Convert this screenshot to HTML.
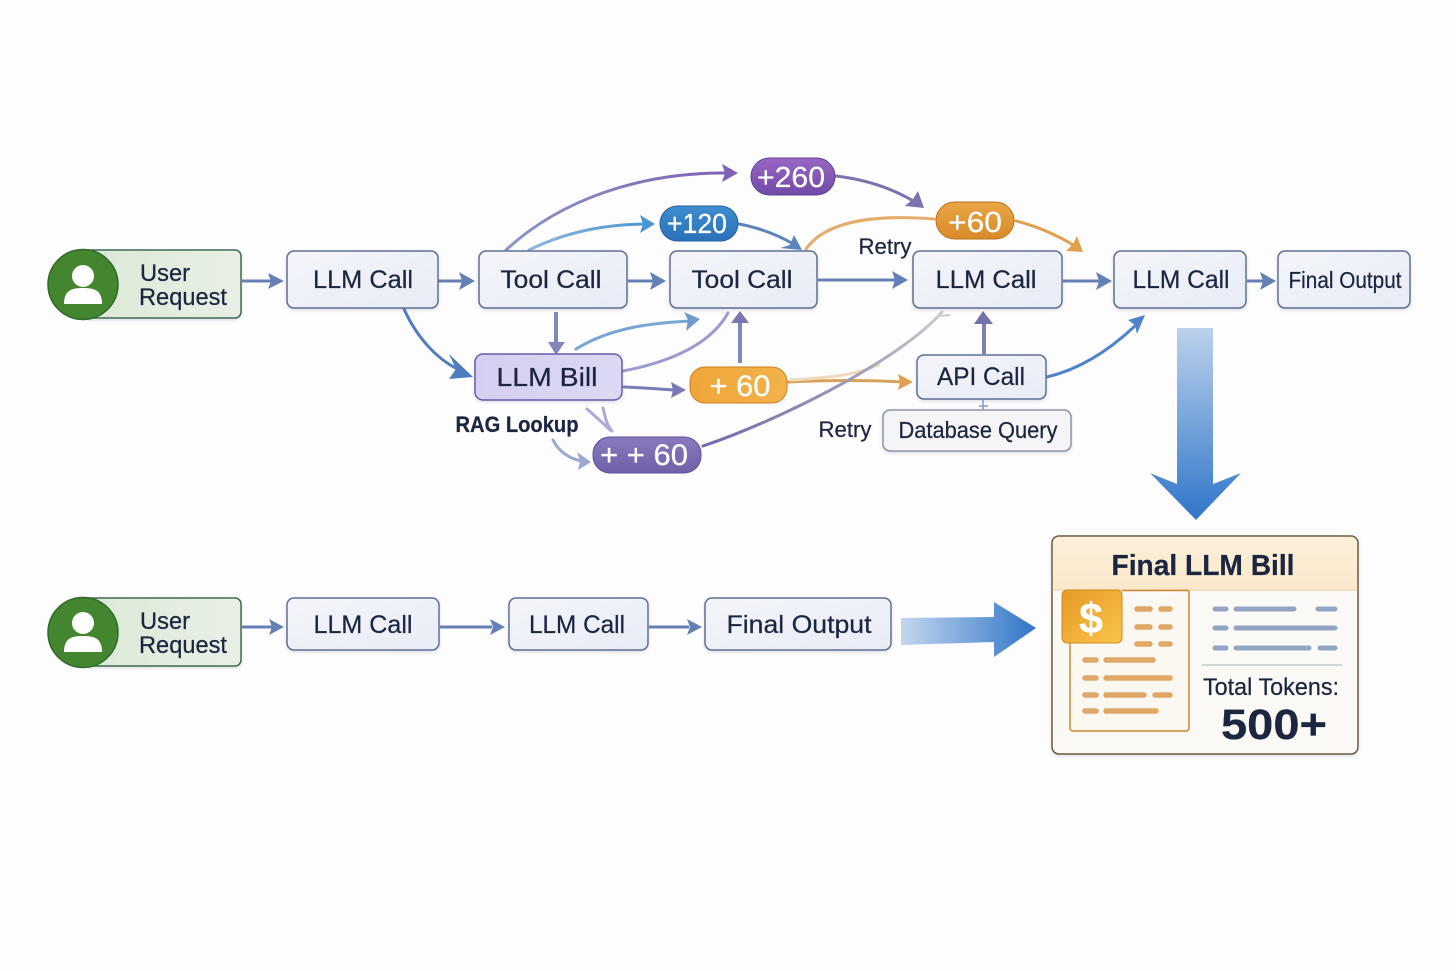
<!DOCTYPE html>
<html><head><meta charset="utf-8"><style>
html,body{margin:0;padding:0;background:#fdfdfd}
svg{display:block}
text{font-family:"Liberation Sans",sans-serif;fill:#1c2640;stroke:#1c2640;stroke-width:.25;text-anchor:middle}
.b{fill:url(#boxg);stroke:#5f6f95;stroke-width:1.5;filter:url(#sh)}
.c{fill:none;stroke-width:3;stroke-linecap:round}
.w{fill:#fff}
.t{fill:#fff;stroke:#fff}
</style></head><body>
<svg width="1456" height="971" viewBox="0 0 1456 971" xmlns="http://www.w3.org/2000/svg">
<defs>
<filter id="sh" x="-5%" y="-10%" width="110%" height="125%"><feDropShadow dx="0" dy="1.500" stdDeviation="1.500" flood-color="#5f6f95" flood-opacity=".22"/></filter>
<linearGradient id="boxg" x1="0" y1="0" x2="1" y2="1"><stop offset="0" stop-color="#f3f5fa"/><stop offset="1" stop-color="#e8ecf6"/></linearGradient>
<linearGradient id="purp" x1="0" y1="0" x2="0" y2="1"><stop offset="0" stop-color="#9a66c4"/><stop offset="1" stop-color="#6f4ba6"/></linearGradient>
<linearGradient id="blue" x1="0" y1="0" x2="0" y2="1"><stop offset="0" stop-color="#3f8dd0"/><stop offset="1" stop-color="#2a70b8"/></linearGradient>
<linearGradient id="or1" x1="0" y1="0" x2="0" y2="1"><stop offset="0" stop-color="#e9a545"/><stop offset="1" stop-color="#d98b28"/></linearGradient>
<linearGradient id="or2" x1="0" y1="0" x2="1" y2="0"><stop offset="0" stop-color="#efa63a"/><stop offset="1" stop-color="#f2b24a"/></linearGradient>
<linearGradient id="pp2" x1="0" y1="0" x2="0" y2="1"><stop offset="0" stop-color="#8a79bd"/><stop offset="1" stop-color="#6f60a8"/></linearGradient>
<linearGradient id="bill" x1="0" y1="0" x2="1" y2="0"><stop offset="0" stop-color="#d5cef0"/><stop offset="1" stop-color="#dcd9f3"/></linearGradient>
<linearGradient id="green" x1="0" y1="0" x2="1" y2="0"><stop offset="0" stop-color="#dbe8d6"/><stop offset="1" stop-color="#e8f0e6"/></linearGradient>
<linearGradient id="down" x1="0" y1="0" x2="0" y2="1"><stop offset="0" stop-color="#bcd2ec"/><stop offset="1" stop-color="#2f75c8"/></linearGradient>
<linearGradient id="right" x1="0" y1="0" x2="1" y2="0"><stop offset="0" stop-color="#c4d7ef"/><stop offset="1" stop-color="#2f75c8"/></linearGradient>
<linearGradient id="hdr" x1="0" y1="0" x2="0" y2="1"><stop offset="0" stop-color="#fbf0da"/><stop offset="1" stop-color="#fbe8cb"/></linearGradient>
<linearGradient id="doll" x1="0" y1="0" x2="1" y2="1"><stop offset="0" stop-color="#e39a24"/><stop offset="1" stop-color="#fcc44c"/></linearGradient>
<linearGradient id="fade" x1="0" y1="0" x2="1" y2="0"><stop offset="0" stop-color="#7667ab"/><stop offset=".6" stop-color="#9c9ab8"/><stop offset="1" stop-color="#c8c9d0"/></linearGradient>
<linearGradient id="p1" x1="0" y1="0" x2="1" y2="0"><stop offset="0" stop-color="#8a96c8"/><stop offset="1" stop-color="#7f62b5"/></linearGradient>
<linearGradient id="p2" x1="0" y1="0" x2="1" y2="0"><stop offset="0" stop-color="#8fb5dc"/><stop offset="1" stop-color="#4a97d4"/></linearGradient>
</defs>

<!-- straight connectors -->
<g fill="none" stroke="#6480b5" stroke-width="3">
<path d="M242 281H272"/><path d="M438 281H464"/><path d="M628 281H654"/><path d="M818 280H896"/><path d="M1063 281H1100"/><path d="M1247 281H1264"/>
<path d="M242 627H272"/><path d="M440 627H492"/><path d="M649 627H689"/>
</g>
<g fill="#6480b5">
<path d="M284 281L268 273L271 281L268 289Z"/><path d="M475 281L459 272L462 281L459 290Z"/><path d="M676 281L660 272L663 281L660 290Z" transform="translate(-10 0)"/><path d="M908 280L892 271L895 280L892 289Z"/><path d="M1112 281L1096 272L1099 281L1096 290Z"/><path d="M1276 281L1260 272L1263 281L1260 290Z"/>
<path d="M284 627L269 619L272 627L269 635Z"/><path d="M505 627L490 619L493 627L490 635Z"/><path d="M702 627L687 619L690 627L687 635Z"/>
</g>

<!-- curved -->
<path class="c" d="M506 250C560 200 640 172 728 173" stroke="url(#p1)"/>
<path d="M738 173L722 164L725 173L722 182Z" fill="#7f62b5"/>
<path class="c" d="M529 250C570 230 610 224 650 224" stroke="url(#p2)"/>
<path d="M655 224L640 215L643 224L640 233Z" fill="#4a97d4"/>
<path class="c" d="M739 224C760 228 780 236 795 245" stroke="#5d84bd"/>
<path d="M802 250L794 235L790 245L780 248Z" fill="#5d84bd"/>
<path class="c" d="M836 176C870 180 895 190 915 202" stroke="#7b72b0"/>
<path d="M924 208L905 206L913 199L918 191Z" fill="#7b72b0"/>
<path class="c" d="M806 249C825 222 870 214 934 219" stroke="#e4ad6b"/>
<path class="c" d="M1016 221C1040 227 1060 237 1075 246" stroke="#dfa050"/>
<path d="M1083 252L1066 251L1073 244L1077 236Z" fill="#dfa050"/>
<path class="c" d="M404 309C418 340 440 362 462 371" stroke="#4f7ec0"/>
<path d="M473 377L449 379L456 369L449 354Z" fill="#4f7ec0"/>
<path d="M556 312V342" stroke="#8288bb" stroke-width="4" fill="none"/>
<path d="M556 355L548 342H565Z" fill="#8288bb"/>
<path class="c" d="M576 349C610 328 650 323 690 321" stroke="#79a6d4"/>
<path d="M700 319L684 312L688 320L686 331Z" fill="#6f9acb"/>
<path class="c" d="M623 371C670 362 710 345 728 313" stroke="#9a9bd0"/>
<path class="c" d="M624 387C645 388 660 389 674 390" stroke="#7a7ab8"/>
<path d="M686 390L671 382L673 390L671 398Z" fill="#7a7ab8"/>
<path d="M740 363V322" stroke="#7f88b8" stroke-width="4" fill="none"/>
<path d="M740 311L731 323H749Z" fill="#7a78ae"/>
<path class="c" d="M788 382C830 380 870 380 902 382" stroke="#d9a25c"/>
<path d="M913 382L898 374L900 382L898 390Z" fill="#dfa050"/>
<path d="M790 380C830 378 860 374 880 364" stroke="#f0d9bb" stroke-width="3" fill="none"/>
<path class="c" d="M703 446C780 420 900 360 942 312" stroke="url(#fade)"/>
<path d="M938 316L950 315" stroke="#c8cad2" stroke-width="2" fill="none"/>
<path d="M984 354V322" stroke="#7f7fb3" stroke-width="4" fill="none"/>
<path d="M983 311L974 324H993Z" fill="#7572aa"/>
<path class="c" d="M1047 377C1085 368 1115 345 1136 325" stroke="#4f85c8"/>
<path d="M1145 315L1128 320L1135 325L1137 334Z" fill="#4f85c8"/>
<path d="M983 400V410M979 406H988" stroke="#7d9bd0" stroke-width="1.5" fill="none"/>
<path class="c" d="M587 409C596 417 604 424 610 430" stroke="#aaa9d8"/>
<path class="c" d="M603 408C605 416 606 424 612 431" stroke="#aaa9d8"/>
<path class="c" d="M553 440C559 452 570 459 582 461" stroke="#9aa8d2"/>
<path d="M591 462L577 452L580 461L578 470Z" fill="#9aa8d2"/>

<!-- User request 1 -->
<rect x="83" y="250" width="158" height="68" rx="6" fill="url(#green)" stroke="#3f6a50" stroke-width="1.5" filter="url(#sh)"/>
<circle cx="83" cy="284.500" r="35" fill="#44852f" stroke="#2f6a2c" stroke-width="1.5"/>
<circle cx="83" cy="276" r="11" class="w"/>
<path d="M64 304C64 290 72 288 83 288C94 288 102 290 102 304Z" class="w"/>
<text x="165" y="281" font-size="24" textLength="50" lengthAdjust="spacingAndGlyphs">User</text>
<text x="183" y="305" font-size="24" textLength="88" lengthAdjust="spacingAndGlyphs">Request</text>

<!-- User request 2 -->
<rect x="83" y="598" width="158" height="68" rx="6" fill="url(#green)" stroke="#3f6a50" stroke-width="1.5" filter="url(#sh)"/>
<circle cx="83" cy="632.500" r="35" fill="#44852f" stroke="#2f6a2c" stroke-width="1.5"/>
<circle cx="83" cy="623" r="11" class="w"/>
<path d="M64 652C64 638 72 636 83 636C94 636 102 638 102 652Z" class="w"/>
<text x="165" y="629" font-size="24" textLength="50" lengthAdjust="spacingAndGlyphs">User</text>
<text x="183" y="653" font-size="24" textLength="88" lengthAdjust="spacingAndGlyphs">Request</text>

<!-- boxes -->
<rect class="b" x="287" y="251" width="151" height="57" rx="7"/>
<text x="363" y="288" font-size="25" textLength="100" lengthAdjust="spacingAndGlyphs">LLM Call</text>
<rect class="b" x="479" y="251" width="148" height="57" rx="7"/>
<text x="551" y="288" font-size="25" textLength="101" lengthAdjust="spacingAndGlyphs">Tool Call</text>
<rect class="b" x="670" y="251" width="147" height="57" rx="7"/>
<text x="742" y="288" font-size="25" textLength="101" lengthAdjust="spacingAndGlyphs">Tool Call</text>
<rect class="b" x="913" y="251" width="149" height="57" rx="7"/>
<text x="986" y="288" font-size="25" textLength="101" lengthAdjust="spacingAndGlyphs">LLM Call</text>
<rect class="b" x="1114" y="251" width="132" height="57" rx="7"/>
<text x="1181" y="288" font-size="25" textLength="97" lengthAdjust="spacingAndGlyphs">LLM Call</text>
<rect class="b" x="1278" y="251" width="132" height="57" rx="7"/>
<text x="1345" y="288" font-size="23" textLength="113" lengthAdjust="spacingAndGlyphs">Final Output</text>
<rect x="475" y="354" width="147" height="46" rx="8" fill="url(#bill)" stroke="#6a5aa8" stroke-width="1.5" filter="url(#sh)"/>
<text x="547" y="386" font-size="26" textLength="101" lengthAdjust="spacingAndGlyphs">LLM Bill</text>
<rect class="b" x="917" y="355" width="129" height="44" rx="7"/>
<text x="981" y="385" font-size="25" textLength="88" lengthAdjust="spacingAndGlyphs">API Call</text>
<rect x="883" y="410" width="188" height="41" rx="7" fill="#f5f5f7" stroke="#8c93a5" stroke-width="1.5" filter="url(#sh)"/>
<text x="978" y="438" font-size="23" textLength="159" lengthAdjust="spacingAndGlyphs">Database Query</text>
<rect class="b" x="287" y="598" width="152" height="52" rx="7"/>
<text x="363" y="633" font-size="25" textLength="99" lengthAdjust="spacingAndGlyphs">LLM Call</text>
<rect class="b" x="509" y="598" width="139" height="52" rx="7"/>
<text x="577" y="633" font-size="25" textLength="96" lengthAdjust="spacingAndGlyphs">LLM Call</text>
<rect class="b" x="705" y="598" width="186" height="52" rx="7"/>
<text x="799" y="633" font-size="25" textLength="145" lengthAdjust="spacingAndGlyphs">Final Output</text>

<!-- pills -->
<rect x="751" y="158" width="84" height="37" rx="18.500" fill="url(#purp)" stroke="#5d4498"/>
<text class="t" x="791" y="187" font-size="29" textLength="68" lengthAdjust="spacingAndGlyphs">+260</text>
<rect x="660" y="206" width="78" height="35" rx="17.500" fill="url(#blue)" stroke="#28609f"/>
<text class="t" x="697" y="233" font-size="28" textLength="60" lengthAdjust="spacingAndGlyphs">+120</text>
<rect x="936" y="202" width="78" height="37" rx="18.500" fill="url(#or1)" stroke="#b87420"/>
<text class="t" x="975" y="232" font-size="29" textLength="54" lengthAdjust="spacingAndGlyphs">+60</text>
<rect x="690" y="367" width="97" height="36" rx="15" fill="url(#or2)" stroke="#cf7f1e"/>
<text class="t" x="740" y="396" font-size="30" textLength="61" lengthAdjust="spacingAndGlyphs">+ 60</text>
<rect x="593" y="437" width="108" height="36" rx="17" fill="url(#pp2)" stroke="#5c4f9c"/>
<text class="t" x="644" y="465" font-size="30" textLength="88" lengthAdjust="spacingAndGlyphs">+ + 60</text>

<!-- labels -->
<text x="517" y="432" font-size="22" font-weight="700" textLength="123" lengthAdjust="spacingAndGlyphs">RAG Lookup</text>
<text x="885" y="254" font-size="22" textLength="53" lengthAdjust="spacingAndGlyphs">Retry</text>
<text x="845" y="437" font-size="22" textLength="53" lengthAdjust="spacingAndGlyphs">Retry</text>

<!-- big arrows -->
<path d="M1177 328H1213V484L1241 473L1196 520L1150 473L1177 484Z" fill="url(#down)"/>
<path d="M901 618L994 617V602L1036 628L994 657V642L901 645Z" fill="url(#right)"/>

<!-- bill -->
<rect x="1052" y="536" width="306" height="218" rx="7" fill="#fbf9f5" stroke="#6f5a3c" stroke-width="1.5" filter="url(#sh)"/>
<path d="M1053 590V543a6 6 0 0 1 6-6H1351a6 6 0 0 1 6 6V590Z" fill="url(#hdr)"/>
<path d="M1053 590H1357" stroke="#f2d9b4" stroke-width="1.5"/>
<text x="1203" y="575" font-size="29" font-weight="700" textLength="183" lengthAdjust="spacingAndGlyphs">Final LLM Bill</text>
<path d="M1070 620V728a3 3 0 0 0 3 3H1186a3 3 0 0 0 3-3V591" fill="#fbf8f2" stroke="#c98733" stroke-width="1.5"/>
<path d="M1122 590.500H1189" stroke="#c98733" stroke-width="1.5"/>
<rect x="1062" y="590" width="60" height="53" rx="5" fill="url(#doll)" stroke="#d08a20"/>
<text class="t" x="1091" y="633" font-size="43" font-weight="700">$</text>
<g stroke="#dfa866" stroke-width="5.500" stroke-linecap="round" fill="none">
<path d="M1137 609H1150M1161 609H1170M1137 627H1150M1161 627H1170M1137 644H1150M1161 644H1170"/>
<path d="M1085 660H1096M1106 660H1153M1085 678H1096M1106 678H1170M1085 695H1096M1106 695H1144M1155 695H1170M1085 711H1096M1106 711H1156"/>
</g>
<g stroke="#93a5c5" stroke-width="5" stroke-linecap="round" fill="none">
<path d="M1215 609H1226M1236 609H1294M1318 609H1335M1215 628H1226M1236 628H1335M1215 648H1226M1236 648H1309M1320 648H1335"/>
</g>
<path d="M1202 665H1342" stroke="#c5c9d0" stroke-width="1.500"/>
<text x="1271" y="695" font-size="24" textLength="136" lengthAdjust="spacingAndGlyphs">Total Tokens:</text>
<text x="1274" y="739" font-size="43" font-weight="700" textLength="106" lengthAdjust="spacingAndGlyphs">500+</text>
</svg>
</body></html>
